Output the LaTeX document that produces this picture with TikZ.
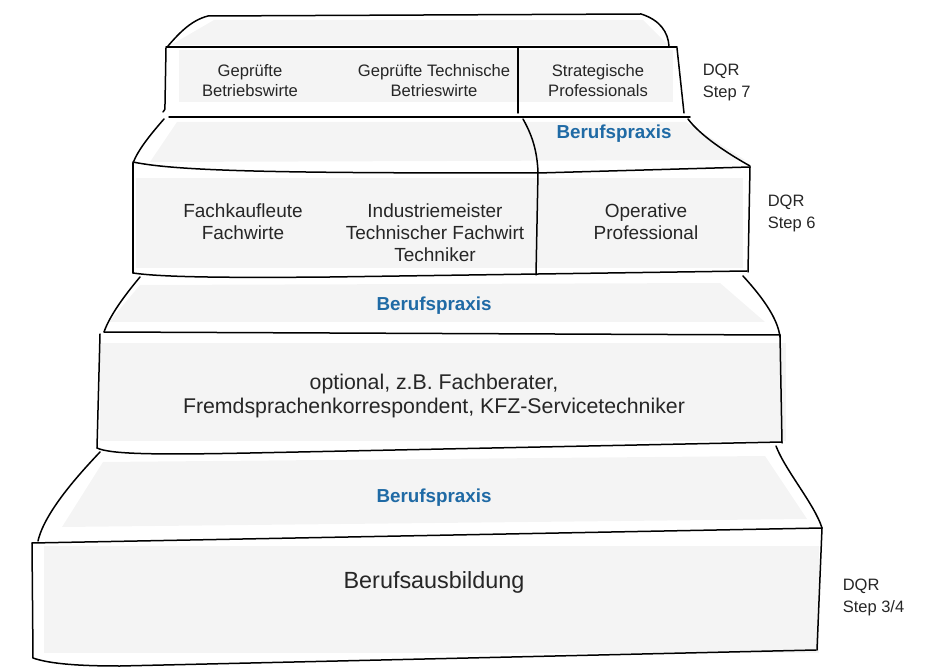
\documentclass[tikz,border=0pt]{standalone}
\usepackage{fontspec}
\setmainfont{Liberation Sans}
\definecolor{fillgray}{HTML}{F4F4F4}
\definecolor{praxisblue}{HTML}{1F6AA5}
\definecolor{txt}{HTML}{262626}
\begin{document}
\begin{tikzpicture}[x=1pt,y=-1pt,line width=1.5pt,line cap=round,line join=round,
  fl/.style={fill=fillgray,draw=none},
  lbl/.style={text=txt,align=center,inner sep=0pt},
  sseven/.style={lbl,font=\fontsize{16.6}{20}\selectfont},
  ssix/.style={lbl,font=\fontsize{19}{22}\selectfont},
  sopt/.style={lbl,font=\fontsize{21.3}{24}\selectfont},
  sbig/.style={lbl,font=\fontsize{23.4}{27}\selectfont},
  dqr/.style={text=txt,align=left,inner sep=0pt,anchor=west,font=\fontsize{16.5}{22}\selectfont},
  praxis/.style={text=praxisblue,inner sep=0pt,font=\bfseries\fontsize{18.8}{20}\selectfont}]
\useasboundingbox (0,0) rectangle (951,668);
% fills
\fill[fl] (214,20) -- (643,20) -- (668,45) -- (171,45) -- cycle;
\fill[fl] (179,50) rectangle (673,102);
\fill[fl] (177,122) -- (686,122) -- (745,160) -- (150,162) -- cycle;
\fill[fl] (136,178) rectangle (743,268);
\fill[fl] (140,285) -- (720,283) -- (765,322) -- (109,322) -- cycle;
\fill[fl] (100,343) rectangle (786,441);
\fill[fl] (103,462) -- (765,456) -- (807,519) -- (62,527) -- cycle;
\fill[fl] (44,546) rectangle (819,653);
% top cap
\draw (168,46) .. controls (180,32) and (192,20) .. (208,16) -- (641,14) .. controls (660,20) and (668,32) .. (669,46);
% step 7 box
\draw (166,47) -- (677,47);
\draw (166,48) -- (165,104) .. controls (165,110) .. (163,112);
\draw (677,48) -- (684,113);
\draw (169,117) -- (690,117);
\draw (518,48) -- (518,113);
% Berufspraxis step 7
\draw (164,119) .. controls (150,135) and (138,150) .. (133,163);
\draw (688,119) .. controls (700,135) and (725,152) .. (750,166);
\draw (523,119) .. controls (532,135) and (537,150) .. (538,172) -- (536,275);
% step 6 box
\draw (133,162) .. controls (180,172) and (300,173) .. (538,173) -- (750,167);
\draw (133,163) -- (133,273);
\draw (750,167) -- (748,272);
\draw (133,273) .. controls (160,277) and (220,278) .. (330,277) -- (747,271);
% Berufspraxis step 6
\draw (140,277) .. controls (125,295) and (110,315) .. (104,332);
\draw (743,276) .. controls (765,300) and (778,320) .. (780,337);
\draw (104,332) -- (780,335);
% optional box
\draw (100,334) -- (97,448);
\draw (780,335) -- (782,443);
\draw (97,448) .. controls (110,454) and (150,455) .. (250,453) -- (782,442);
% lower Berufspraxis
\draw (100,452) .. controls (85,468) and (45,510) .. (38,541);
\draw (776,446) .. controls (785,470) and (815,505) .. (822,528);
\draw (32,543) -- (822,528);
% Berufsausbildung box
\draw (32,543) -- (33,658);
\draw (33,658) .. controls (50,664) and (80,666) .. (120,666) -- (816,650);
\draw (822,528) -- (817,650);
% texts
\node[sseven] (g1) at (250,81) {Geprüfte\\Betriebswirte};
\node[sseven] (g2) at (434,81) {Geprüfte Technische\\Betrieswirte};
\node[sseven] (g3) at (598,81) {Strategische\\Professionals};
\node[dqr] (d7) at (702,82) {DQR\\Step 7};
\node[praxis] (p7) at (614,134) {Berufspraxis};
\node[ssix] (f1) at (243,222) {Fachkaufleute\\Fachwirte};
\node[ssix] (f2) at (435,233) {Industriemeister\\Technischer Fachwirt\\Techniker};
\node[ssix] (f3) at (646,222) {Operative\\Professional};
\node[dqr] (d6) at (767,213) {DQR\\Step 6};
\node[praxis] (p6) at (434,306) {Berufspraxis};
\node[sopt] (o) at (434,396) {optional, z.B. Fachberater,\\Fremdsprachenkorrespondent, KFZ-Servicetechniker};
\node[praxis] (p5) at (434,498) {Berufspraxis};
\node[sbig] (b) at (434,582) {Berufsausbildung};
\node[dqr] (d34) at (842,597) {DQR\\Step 3/4};
\end{tikzpicture}
\end{document}
